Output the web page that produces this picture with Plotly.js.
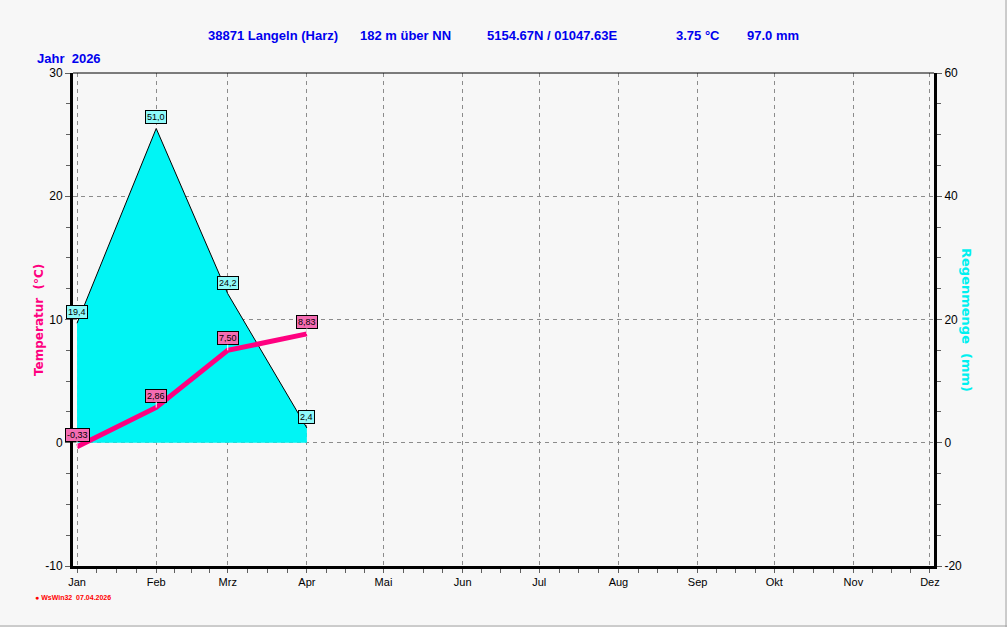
<!DOCTYPE html>
<html>
<head>
<meta charset="utf-8">
<script src="https://cdn.plot.ly/plotly-3.0.1.min.js"></script>
<style>
  html, body { margin: 0; padding: 0; background: #f7f7f7; }
  #chart { width: 1007px; height: 627px; }
</style>
</head>
<body>
<div id="chart"></div>
<script>
// ---- Data ----
const monthLabels = ['Jan','Feb','Mrz','Apr','Mai','Jun','Jul','Aug','Sep','Okt','Nov','Dez'];
const monthDates = ['2026-01-01','2026-02-01','2026-03-01','2026-04-01','2026-05-01','2026-06-01',
                    '2026-07-01','2026-08-01','2026-09-01','2026-10-01','2026-11-01','2026-12-01'];
const dataDates = ['2026-01-01','2026-02-01','2026-03-01','2026-04-01'];
const temperature = [-0.33, 2.86, 7.50, 8.83];
const rainfall = [19.4, 51.0, 24.2, 2.4];
const tempTicks = [-10, 0, 10, 20, 30];
const tempTickText = ['-10', '0', '10', '20', '30'];
const rainTicks = [-20, 0, 20, 40, 60];
const rainTickText = ['-20', '0', '20', '40', '60'];

// ---- minor tick positions (quarter months) ----
function toStr(ms) { return new Date(ms).toISOString().slice(0,19).replace('T',' '); }
const minorVals = [];
for (let i = 0; i < monthDates.length - 1; i++) {
  const a = Date.parse(monthDates[i] + 'T00:00:00Z');
  const b = Date.parse(monthDates[i+1] + 'T00:00:00Z');
  for (let k = 1; k < 4; k++) minorVals.push(toStr(a + (b - a) * k / 4));
}

const blue = '#0000ee';
const pink = '#ff0080';
const cyan = '#00f5f5';
const gridCol = '#8c8c8c';
const gridDash = '4px,4px';

const traces = [
  { // rain (base axis, right side)
    x: dataDates, y: rainfall, xaxis: 'x', yaxis: 'y',
    type: 'scatter', mode: 'lines', fill: 'tozeroy',
    fillcolor: cyan, line: { color: '#000000', width: 1 },
    hoverinfo: 'skip', showlegend: false
  },
  { // temperature (overlay axis, left side)
    x: dataDates, y: temperature, xaxis: 'x', yaxis: 'y2',
    type: 'scatter', mode: 'lines',
    line: { color: pink, width: 5 },
    hoverinfo: 'skip', showlegend: false
  }
];

const annotations = [];
// data labels
rainfall.forEach((v, i) => {
  annotations.push({
    x: dataDates[i], y: v, xref: 'x', yref: 'y',
    text: v.toFixed(1).replace('.', ','), showarrow: false, yshift: 11,
    font: { family: 'Arial, Liberation Sans, sans-serif', size: 9, color: '#000000' },
    bgcolor: '#8ffafa', bordercolor: '#000000', borderwidth: 1, borderpad: 1
  });
});
temperature.forEach((v, i) => {
  annotations.push({
    x: dataDates[i], y: v, xref: 'x', yref: 'y2',
    text: v.toFixed(2).replace('.', ','), showarrow: true, arrowhead: 0,
    arrowcolor: '#ffffff', arrowwidth: 1, ax: 0, ay: -12,
    font: { family: 'Arial, Liberation Sans, sans-serif', size: 9, color: '#000000' },
    bgcolor: '#f46cb2', bordercolor: '#000000', borderwidth: 1, borderpad: 1
  });
});

// plot area px: left 73, right 934, top 73, bottom 566
const PL = 73, PR = 934, PT = 73, PB = 566;
const px = x => (x - PL) / (PR - PL);
const py = y => (PB - y) / (PB - PT);
const headFont = { family: 'Arial, Liberation Sans, sans-serif', size: 13, color: blue };
const headers = [
  ['38871 Langeln (Harz)', 206],
  ['182 m über NN', 358],
  ['5154.67N / 01047.63E', 485],
  ['3.75 °C', 674],
  ['97.0 mm', 745]
];
headers.forEach(h => annotations.push({
  text: '<b>' + h[0] + '</b>', xref: 'paper', yref: 'paper', x: px(h[1]), y: py(35),
  xanchor: 'left', yanchor: 'middle', showarrow: false, font: headFont
}));
annotations.push({
  text: '<b>Jahr  2026</b>', xref: 'paper', yref: 'paper', x: px(35), y: py(58),
  xanchor: 'left', yanchor: 'middle', showarrow: false, font: headFont
});
annotations.push({
  text: '<b>Temperatur  (°C)</b>', xref: 'paper', yref: 'paper', x: px(39), y: py(320),
  xanchor: 'center', yanchor: 'middle', showarrow: false, textangle: -90,
  font: { family: 'DejaVu Sans, sans-serif', size: 12, color: pink }
});
annotations.push({
  text: '<b>Regenmenge  (mm)</b>', xref: 'paper', yref: 'paper', x: px(967), y: py(320),
  xanchor: 'center', yanchor: 'middle', showarrow: false, textangle: 90,
  font: { family: 'DejaVu Sans, sans-serif', size: 13, color: '#00f0f0' }
});
annotations.push({
  text: '<b>● WsWin32  07.04.2026</b>', xref: 'paper', yref: 'paper', x: px(33), y: py(597),
  xanchor: 'left', yanchor: 'middle', showarrow: false,
  font: { family: 'Arial, Liberation Sans, sans-serif', size: 7, color: '#ff0000' }
});

const tickFont = { family: 'Arial, Liberation Sans, sans-serif', size: 12, color: '#000000' };

const layout = {
  width: 1007, height: 627,
  paper_bgcolor: '#f7f7f7', plot_bgcolor: '#f7f7f7',
  margin: { l: PL, r: 1007 - PR, t: PT, b: 627 - PB, pad: 0 },
  showlegend: false,
  xaxis: {
    type: 'date', range: ['2025-12-30 10:00', '2026-12-02 14:00'],
    tickmode: 'array', tickvals: monthDates, ticktext: monthLabels,
    ticks: 'outside', ticklen: 4, tickcolor: '#606060', tickwidth: 1,
    showgrid: true, gridcolor: gridCol, griddash: gridDash, gridwidth: 1,
    showline: true, linecolor: '#000000', linewidth: 3,
    zeroline: false, tickfont: { family: 'Arial, Liberation Sans, sans-serif', size: 11, color: '#000000' },
    minor: { tickmode: 'array', tickvals: minorVals, ticks: 'outside', ticklen: 4, tickcolor: '#606060', showgrid: false },
    fixedrange: true
  },
  yaxis: { // rain
    side: 'right', range: [-20, 60], tickmode: 'array', tickvals: rainTicks, ticktext: rainTickText,
    ticks: 'outside', ticklen: 5, tickcolor: '#606060',
    showgrid: true, gridcolor: gridCol, griddash: gridDash, gridwidth: 1,
    showline: true, linecolor: '#000000', linewidth: 3, zeroline: false,
    tickfont: tickFont,
    minor: { dtick: 5, ticks: 'outside', ticklen: 4, tickcolor: '#606060', showgrid: false },
    fixedrange: true
  },
  yaxis2: { // temperature
    overlaying: 'y', side: 'left', range: [-10, 30], tickmode: 'array', tickvals: tempTicks, ticktext: tempTickText,
    ticks: 'outside', ticklen: 5, tickcolor: '#606060',
    showgrid: false, showline: true, linecolor: '#000000', linewidth: 3, zeroline: false,
    tickfont: tickFont,
    minor: { dtick: 2.5, ticks: 'outside', ticklen: 4, tickcolor: '#606060', showgrid: false },
    fixedrange: true
  },
  shapes: [
    { type: 'line', xref: 'paper', yref: 'paper', x0: 0, x1: 1, y0: 1, y1: 1, line: { color: '#000000', width: 1 } },
    { type: 'line', xref: 'paper', yref: 'paper', x0: px(0), x1: px(1007), y0: py(626), y1: py(626), line: { color: '#a0a0a0', width: 1 } },
    { type: 'line', xref: 'paper', yref: 'paper', x0: px(1006), x1: px(1006), y0: py(0), y1: py(627), line: { color: '#a0a0a0', width: 1 } }
  ],
  annotations: annotations
};

Plotly.newPlot('chart', traces, layout, { displayModeBar: false, staticPlot: true });
</script>
</body>
</html>
